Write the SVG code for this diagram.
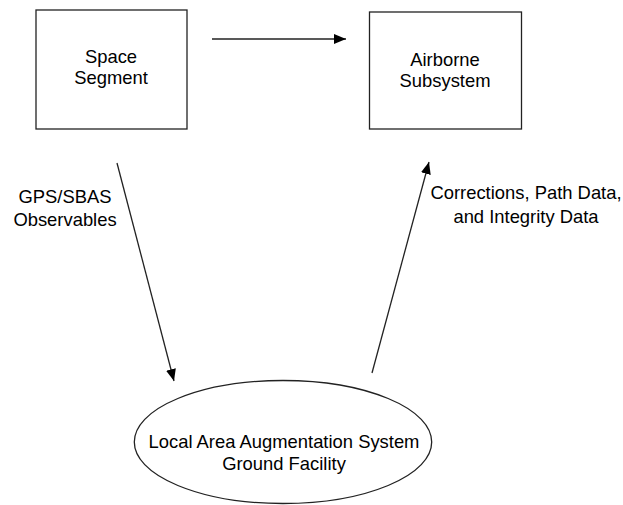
<svg xmlns="http://www.w3.org/2000/svg" width="623" height="505" viewBox="0 0 623 505">
<style>
.box{fill:#fff;stroke:#222;stroke-width:1.3}
.t{font-family:"Liberation Sans",Arial,sans-serif;font-size:18.4px;fill:#000;text-anchor:middle}
.c{stroke:#222;stroke-width:1.3;fill:none;marker-end:url(#ah)}
</style>
<defs>
<marker id="ah" viewBox="0 0 12 10" refX="12" refY="5" markerWidth="12" markerHeight="10" markerUnits="userSpaceOnUse" orient="auto">
<path d="M0,0 L12,5 L0,10 z" fill="#000"/>
</marker>
</defs>
<rect width="623" height="505" fill="#fff"/>
<g id="space">
<rect class="box" x="36" y="10" width="151" height="119"/>
<text class="t" x="111" y="63">Space</text>
<text class="t" x="111" y="84">Segment</text>
</g>
<g id="airborne">
<rect class="box" x="369.5" y="12" width="152" height="117"/>
<text class="t" x="445" y="66">Airborne</text>
<text class="t" x="445" y="87">Subsystem</text>
</g>
<g id="ground">
<ellipse class="box" cx="283" cy="442" rx="148.7" ry="61.5"/>
<text class="t" x="284" y="448">Local Area Augmentation System</text>
<text class="t" x="284" y="470">Ground Facility</text>
</g>
<g id="connectors">
<line class="c" x1="212" y1="39" x2="346" y2="39"/>
<line class="c" x1="117" y1="163" x2="174" y2="381"/>
<line class="c" x1="372" y1="373" x2="429" y2="162"/>
<text class="t" x="65" y="203">GPS/SBAS</text>
<text class="t" x="65" y="226">Observables</text>
<text class="t" x="526" y="199">Corrections, Path Data,</text>
<text class="t" x="526" y="223">and Integrity Data</text>
</g>
</svg>
